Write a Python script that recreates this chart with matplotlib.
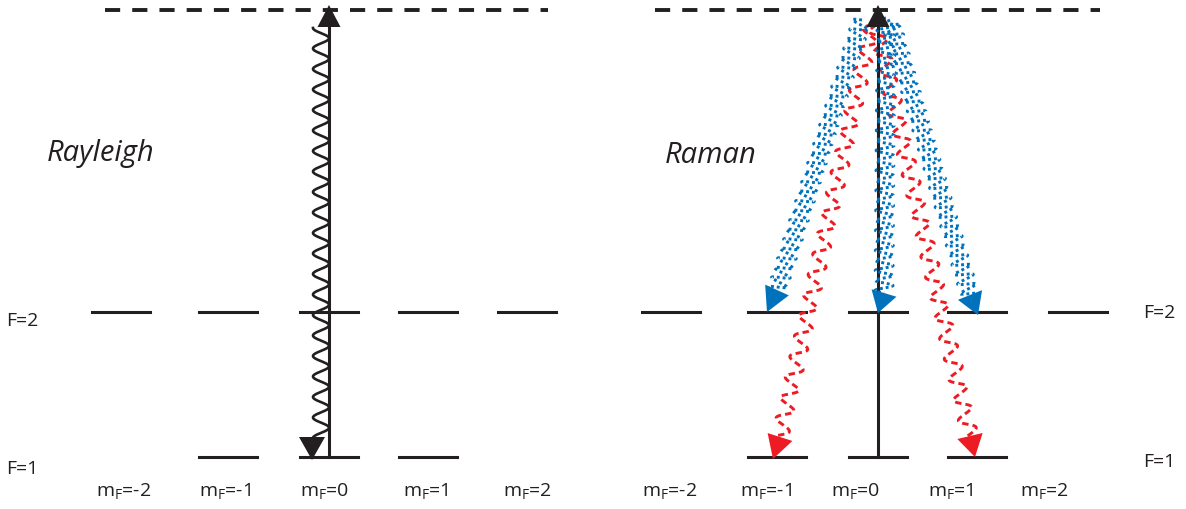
import numpy as np
import matplotlib
matplotlib.use("Agg")
import matplotlib.pyplot as plt
from matplotlib.patches import Polygon

plt.rcParams['font.family'] = ['Open Sans', 'DejaVu Sans']
plt.rcParams['mathtext.fontset'] = 'custom'
plt.rcParams['mathtext.rm'] = 'Open Sans'

BLACK = '#231F20'
BLUE = '#0072BC'
RED = '#ED1C24'

# level geometry (pixel units, y grows downward)
mf_names = ['-2', '-1', '0', '1', '2']
left_cols = [121, 228, 329, 428, 527]
right_cols = [671, 777, 878, 977, 1078]
left_label_x = [96, 199, 300, 403, 503]
right_label_x = [642, 740, 831, 928, 1020]
f1_members = [1, 2, 3]          # mF=-1,0,1 exist in F=1
half_w = 29
y_virtual = 10
y_f2 = 312
y_f1 = 457
virtual_left = (105, 548)
virtual_right = (655, 1100)

# scattered photons: start and end of the wavy part, arrow tip
blue_start = [(862, 20), (886, 18), (890, 20)]
blue_end = [(777, 290), (884, 293), (970, 295)]
blue_tip = [(767, 312), (878, 313), (978, 315)]
red_start = [(872, 25), (876, 25)]
red_end = [(780, 437), (970, 436)]
red_tip = [(773, 459), (975, 457)]


def wavy(ax, p0, p1, amp, wl, phase=0.0, **kw):
    p0 = np.array(p0, float)
    p1 = np.array(p1, float)
    d = p1 - p0
    L = np.hypot(*d)
    u = d / L
    n = np.array([-u[1], u[0]])
    s = np.linspace(0, L, int(L * 4))
    off = amp * np.sin(2 * np.pi * s / wl + phase)
    pts = p0[None, :] + s[:, None] * u[None, :] + off[:, None] * n[None, :]
    ax.plot(pts[:, 0], pts[:, 1], **kw)


def head(ax, base_mid, tip, width, color):
    tip = np.array(tip, float)
    b = np.array(base_mid, float)
    d = tip - b
    u = d / np.hypot(*d)
    n = np.array([-u[1], u[0]])
    ax.add_patch(Polygon([tip, b + n * width / 2, b - n * width / 2],
                         closed=True, color=color, lw=0, zorder=5))


fig = plt.figure(figsize=(11.86, 5.09), dpi=100)
ax = fig.add_axes([0, 0, 1, 1])
ax.set_xlim(0, 1186)
ax.set_ylim(509, 0)
ax.axis('off')

for cols, span, lab_x in [(left_cols, virtual_left, left_label_x),
                          (right_cols, virtual_right, right_label_x)]:
    ax.plot(span, [y_virtual, y_virtual], color=BLACK, lw=2.8,
            linestyle=(0, (3.9, 3.1)), solid_capstyle='butt')
    for i, c in enumerate(cols):
        ax.plot([c - half_w, c + half_w], [y_f2, y_f2], color=BLACK, lw=2.2)
        if i in f1_members:
            ax.plot([c - half_w, c + half_w], [y_f1, y_f1], color=BLACK, lw=2.2)
        ax.text(lab_x[i], 497, r'm$_{\mathrm{F}}$=' + mf_names[i], fontsize=14,
                color=BLACK, ha='left', va='baseline')

ax.text(6, 321, 'F=2', fontsize=14, color=BLACK, va='center')
ax.text(6, 469, 'F=1', fontsize=14, color=BLACK, va='center')
ax.text(1143, 313, 'F=2', fontsize=14, color=BLACK, va='center')
ax.text(1143, 462, 'F=1', fontsize=14, color=BLACK, va='center')
ax.text(47, 161, 'Rayleigh', fontsize=21, style='italic', color=BLACK,
        va='baseline')
ax.text(665, 163, 'Raman', fontsize=21, style='italic', color=BLACK,
        va='baseline')

# Rayleigh: absorption up, emission back to the same level
c0 = left_cols[2]
ax.plot([c0, c0], [y_f1, y_virtual + 16], color=BLACK, lw=2.2)
head(ax, (c0, y_virtual + 17), (c0, y_virtual - 5), 23, BLACK)
wavy(ax, (c0 - 8, 28), (c0 - 8, 437), 8, 20.5, phase=np.pi / 2,
     color=BLACK, lw=1.9)
head(ax, (c0 - 17, 437), (c0 - 17, 460), 26, BLACK)

# Raman
c1 = right_cols[2]
ax.plot([c1, c1], [y_f1, y_virtual + 16], color=BLACK, lw=2.2, zorder=3)
head(ax, (c1, y_virtual + 17), (c1, y_virtual - 5), 23, BLACK)

for p0, p1, tip in zip(red_start, red_end, red_tip):
    wavy(ax, p0, p1, 8, 21, color=RED, lw=2.1,
         linestyle=(0, (2.2, 1.4)))
    head(ax, p1, tip, 26, RED)

for p0, p1, tip in zip(blue_start, blue_end, blue_tip):
    wavy(ax, p0, p1, 9, 10, color=BLUE, lw=2.1,
         linestyle=(0, (1, 1)), zorder=4)
    head(ax, p1, tip, 26, BLUE)

fig.savefig('out.png', dpi=100)
